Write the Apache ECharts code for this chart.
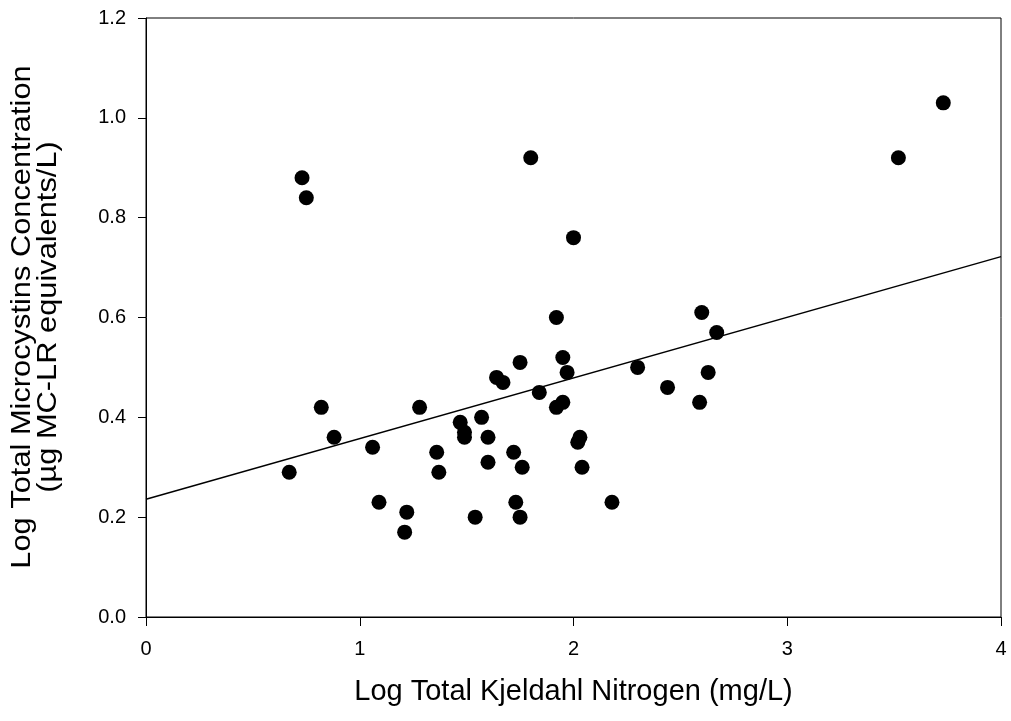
<!DOCTYPE html>
<html>
<head>
<meta charset="utf-8">
<script src="https://cdn.jsdelivr.net/npm/echarts@6/dist/echarts.min.js"></script>
<style>
  html, body { margin: 0; padding: 0; background: #fff; }
  #chart { width: 1011px; height: 721px; }
</style>
</head>
<body>
<div id="chart"></div>
<script>
// Log TKN (x) vs log total microcystins (y), one entry per sample
const logTKN = [
  0.67, 0.73, 0.75, 0.82, 0.88, 1.06, 1.09, 1.22, 1.21, 1.28,
  1.36, 1.37, 1.47, 1.49, 1.49, 1.54, 1.57, 1.60, 1.60, 1.64,
  1.67, 1.72, 1.73, 1.76, 1.75, 1.75, 1.80, 1.84, 1.92, 1.92,
  1.95, 1.95, 1.97, 2.00, 2.02, 2.03, 2.04, 2.18, 2.30, 2.44,
  2.59, 2.60, 2.63, 2.67, 3.52, 3.73
];
const logMC = [
  0.29, 0.88, 0.84, 0.42, 0.36, 0.34, 0.23, 0.21, 0.17, 0.42,
  0.33, 0.29, 0.39, 0.37, 0.36, 0.20, 0.40, 0.36, 0.31, 0.48,
  0.47, 0.33, 0.23, 0.30, 0.20, 0.51, 0.92, 0.45, 0.60, 0.42,
  0.43, 0.52, 0.49, 0.76, 0.35, 0.36, 0.30, 0.23, 0.50, 0.46,
  0.43, 0.61, 0.49, 0.57, 0.92, 1.03
];

// Least-squares fit line, evaluated at the axis ends
const fitX = [0, 4];
const fitY = [0.236, 0.722];

const xTicks = [0, 1, 2, 3, 4];
const yTicks = [0.0, 0.2, 0.4, 0.6, 0.8, 1.0, 1.2];

const xTitle = 'Log Total Kjeldahl Nitrogen (mg/L)';
const yTitle = 'Log Total Microcystins Concentration\n(µg MC-LR equivalents/L)';

const FONT = '"Liberation Sans", Arial, sans-serif';

const points = logTKN.map((x, i) => [x, logMC[i]]);
const fitLine = fitX.map((x, i) => [x, fitY[i]]);

const chart = echarts.init(document.getElementById('chart'), null, { renderer: 'canvas' });
chart.setOption({
  animation: false,
  backgroundColor: '#ffffff',
  grid: {
    left: 146, right: 10, top: 18, bottom: 104,
    containLabel: false,
    outerBoundsMode: 'none',
    show: true, borderColor: '#000', borderWidth: 1, backgroundColor: 'transparent'
  },
  // Two-line vertical title, slightly widened along its reading direction
  graphic: [{
    type: 'text',
    x: 35, y: 317,
    rotation: Math.PI / 2,
    scaleX: 1.1,
    silent: true,
    style: {
      text: yTitle,
      fontFamily: FONT, fontSize: 28, lineHeight: 26,
      fill: '#000',
      align: 'center', verticalAlign: 'middle'
    }
  }],
  xAxis: {
    type: 'value',
    min: xTicks[0], max: xTicks[xTicks.length - 1], interval: 1,
    name: xTitle,
    nameLocation: 'middle', nameGap: 60,
    nameTextStyle: { fontFamily: FONT, fontSize: 29, color: '#000' },
    axisLine: { show: true, lineStyle: { color: '#000', width: 1 } },
    axisTick: { show: true, inside: false, length: 9, lineStyle: { color: '#000' } },
    axisLabel: { fontFamily: FONT, fontSize: 20, color: '#000', margin: 22 },
    splitLine: { show: false }
  },
  yAxis: {
    type: 'value',
    min: yTicks[0], max: yTicks[yTicks.length - 1], interval: 0.2,
    axisLine: { show: true, lineStyle: { color: '#000', width: 1 } },
    axisTick: { show: true, inside: false, length: 8, lineStyle: { color: '#000' } },
    axisLabel: {
      fontFamily: FONT, fontSize: 20, color: '#000', margin: 20,
      formatter: v => v.toFixed(1)
    },
    splitLine: { show: false }
  },
  series: [
    {
      type: 'line',
      data: fitLine,
      showSymbol: false,
      lineStyle: { color: '#000', width: 1.5 },
      silent: true,
      z: 2
    },
    {
      type: 'scatter',
      data: points,
      symbol: 'circle',
      symbolSize: 15,
      itemStyle: { color: '#000', opacity: 1 },
      z: 3
    }
  ]
});
</script>
</body>
</html>
